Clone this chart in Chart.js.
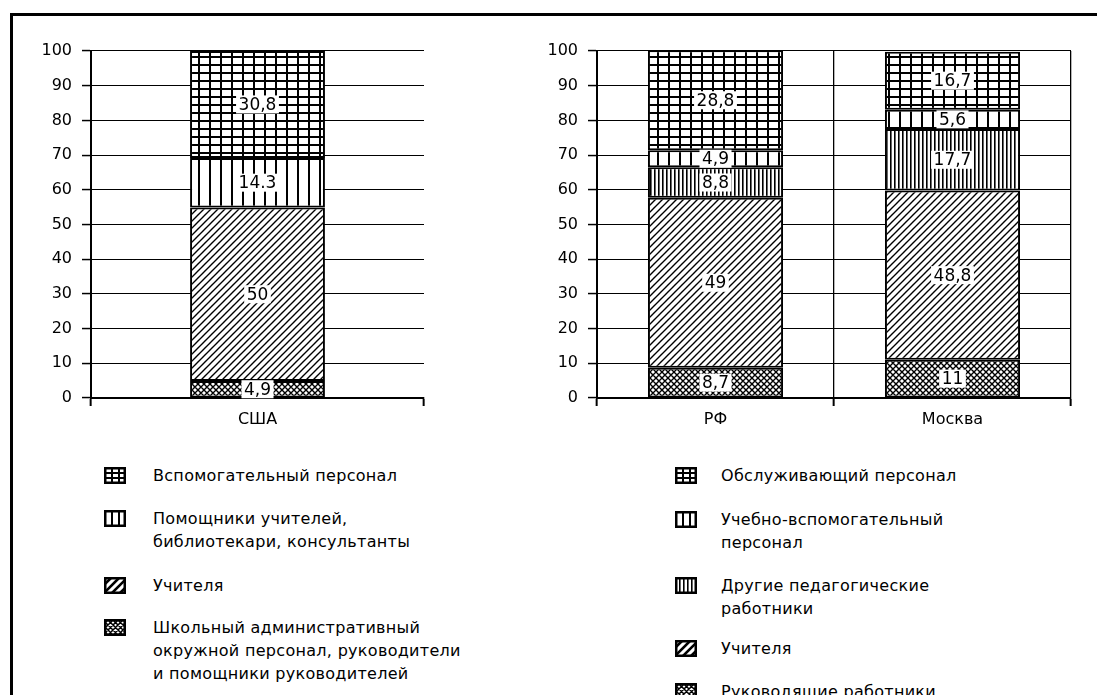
<!DOCTYPE html>
<html>
<head>
<meta charset="utf-8">
<script src="https://cdn.jsdelivr.net/npm/chart.js@4.4.0/dist/chart.umd.min.js"></script>
<style>
html,body{margin:0;padding:0;background:#fff;width:1097px;height:695px;overflow:hidden;font-family:"DejaVu Sans",sans-serif;}
#frame{position:absolute;left:10px;top:13px;width:1200px;height:800px;border-left:3px solid #000;border-top:3px solid #000;box-sizing:border-box;}
#w1{position:absolute;left:0;top:0;width:440px;height:440px;}
#w2{position:absolute;left:470px;top:0;width:627px;height:440px;}
.lg-txt{position:absolute;font-size:16px;letter-spacing:0.3px;line-height:23px;color:#000;white-space:pre;}
.lg-sw{position:absolute;}
</style>
</head>
<body>
<div id="frame"></div>
<div id="w1"><canvas id="c1"></canvas></div>
<div id="w2"><canvas id="c2"></canvas></div>
<div id="legends"></div>
<script>
// ---------- DATA ----------
const usaCategories = ['США'];
const usaSeriesNames = [
  'Школьный административный\nокружной персонал, руководители\nи помощники руководителей',
  'Учителя',
  'Помощники учителей,\nбиблиотекари, консультанты',
  'Вспомогательный персонал'
];
const usaAdmin = [4.9];
const usaTeachers = [50];
const usaAssistants = [14.3];
const usaSupport = [30.8];
const usaValueText = [['4,9'], ['50'], ['14.3'], ['30,8']];

const ruCategories = ['РФ', 'Москва'];
const ruSeriesNames = [
  'Руководящие работники',
  'Учителя',
  'Другие педагогические\nработники',
  'Учебно-вспомогательный\nперсонал',
  'Обслуживающий персонал'
];
const ruManagers = [8.7, 11];
const ruTeachers = [49, 48.8];
const ruOtherPed = [8.8, 17.7];
const ruEduSupport = [4.9, 5.6];
const ruService = [28.8, 16.7];
const ruValueText = [['8,7', '11'], ['49', '48,8'], ['8,8', '17,7'], ['4,9', '5,6'], ['28,8', '16,7']];

const yMin = 0, yMax = 100, yStep = 10;

// ---------- STYLE ----------
const FONT = '"DejaVu Sans", sans-serif';
Chart.defaults.font.family = FONT;
Chart.defaults.color = '#000';

function makePattern(kind) {
  const c = document.createElement('canvas');
  const g = c.getContext('2d');
  let w, h;
  if (kind === 'grid') { w = 11; h = 8; }
  else if (kind === 'vert') { w = 11; h = 4; }
  else if (kind === 'dense') { w = 4; h = 4; }
  else if (kind === 'diag') { w = 7; h = 7; }
  else { w = 6; h = 6; }
  c.width = w; c.height = h;
  g.fillStyle = '#fff'; g.fillRect(0, 0, w, h);
  g.fillStyle = '#000'; g.strokeStyle = '#000';
  if (kind === 'grid') {
    g.fillRect(0, 0, 2, h);
    g.fillRect(0, 0, w, 2);
  } else if (kind === 'vert') {
    g.fillRect(0, 0, 2, h);
  } else if (kind === 'dense') {
    g.fillRect(0, 0, 1, h);
    g.fillStyle = '#666'; g.fillRect(1, 0, 1, h);
  } else if (kind === 'diag') {
    g.lineWidth = 1.4;
    g.beginPath();
    g.moveTo(-1, h + 1); g.lineTo(w + 1, -1);
    g.moveTo(-w / 2 - 1, h / 2 + 1); g.lineTo(w / 2 + 1, -h / 2 - 1);
    g.moveTo(w / 2 - 1, 1.5 * h + 1); g.lineTo(1.5 * w + 1, h / 2 - 1);
    g.stroke();
  } else {
    g.lineWidth = 1.4;
    g.beginPath();
    g.moveTo(-1, h + 1); g.lineTo(w + 1, -1);
    g.moveTo(-w / 2 - 1, h / 2 + 1); g.lineTo(w / 2 + 1, -h / 2 - 1);
    g.moveTo(w / 2 - 1, 1.5 * h + 1); g.lineTo(1.5 * w + 1, h / 2 - 1);
    g.moveTo(-1, -1); g.lineTo(w + 1, h + 1);
    g.moveTo(w / 2 - 1, -h / 2 - 1); g.lineTo(1.5 * w + 1, h / 2 + 1);
    g.moveTo(-w / 2 - 1, h / 2 - 1); g.lineTo(w / 2 + 1, 1.5 * h + 1);
    g.stroke();
  }
  return g.createPattern(c, 'repeat');
}

function drawSwatch(kind) {
  const c = document.createElement('canvas');
  const W = 22, H = 17;
  c.width = W; c.height = H;
  const g = c.getContext('2d');
  g.fillStyle = '#fff'; g.fillRect(0, 0, W, H);
  g.fillStyle = '#000'; g.strokeStyle = '#000';
  g.save();
  g.beginPath(); g.rect(0, 0, W, H); g.clip();
  if (kind === 'grid') {
    g.fillRect(7, 0, 2, H); g.fillRect(14, 0, 2, H);
    g.fillRect(0, 5, W, 2); g.fillRect(0, 10, W, 2);
  } else if (kind === 'vert') {
    g.fillRect(7, 0, 2, H); g.fillRect(14, 0, 2, H);
  } else if (kind === 'dense') {
    for (let x = 4; x < W - 2; x += 4) g.fillRect(x, 0, 1.6, H);
  } else if (kind === 'diag') {
    g.lineWidth = 2.6; g.beginPath();
    for (let k = -H; k < W + H; k += 8) { g.moveTo(k, H); g.lineTo(k + H, 0); }
    g.stroke();
  } else {
    g.lineWidth = 1.5; g.beginPath();
    for (let k = -H; k < W + H; k += 5) {
      g.moveTo(k, H); g.lineTo(k + H, 0);
      g.moveTo(k, 0); g.lineTo(k + H, H);
    }
    g.stroke();
  }
  g.restore();
  g.lineWidth = 2.5; g.strokeRect(1.25, 1.25, W - 2.5, H - 2.5);
  c.className = 'lg-sw';
  return c;
}

const labelPlugin = {
  id: 'segLabels',
  afterDatasetsDraw(chart) {
    const ctx = chart.ctx;
    ctx.save();
    ctx.font = '17px ' + FONT;
    ctx.textAlign = 'center';
    ctx.textBaseline = 'middle';
    chart.data.datasets.forEach((ds, i) => {
      const meta = chart.getDatasetMeta(i);
      meta.data.forEach((bar, j) => {
        const txt = ds.valueText[j];
        const p = bar.getProps(['x', 'y', 'base'], true);
        const cy = (p.y + p.base) / 2;
        const w = ctx.measureText(txt).width + 5;
        ctx.fillStyle = '#fff';
        ctx.fillRect(p.x - w / 2, cy - 9, w, 18);
        ctx.fillStyle = '#000';
        ctx.fillText(txt, p.x, cy + 1);
      });
    });
    ctx.restore();
  }
};

function buildChart(canvasId, categories, seriesNames, seriesValues, valueText, kinds, barPct, drawVertGrid, padRight, yWidth) {
  const ctx = document.getElementById(canvasId).getContext('2d');
  const datasets = seriesValues.map((vals, i) => ({
    label: seriesNames[i],
    data: vals,
    valueText: valueText[i],
    backgroundColor: makePattern(kinds[i]),
    borderColor: '#000',
    borderWidth: 2,
    borderSkipped: false,
    barPercentage: barPct,
    categoryPercentage: 1
  }));
  return new Chart(ctx, {
    type: 'bar',
    data: { labels: categories, datasets },
    options: {
      responsive: true,
      maintainAspectRatio: false,
      animation: false,
      devicePixelRatio: 1,
      layout: { padding: { top: 51, right: padRight, bottom: 0, left: 0 } },
      plugins: { legend: { display: false }, tooltip: { enabled: false } },
      scales: {
        x: {
          stacked: true,
          grid: { offset: true, drawOnChartArea: drawVertGrid, color: '#000', lineWidth: 1.3, tickLength: 8, tickWidth: 2 },
          border: { display: true, color: '#000', width: 2 },
          ticks: { color: '#000', font: { size: 16, family: FONT }, padding: 4 },
          afterFit: s => { s.height = 42; }
        },
        y: {
          stacked: true,
          min: yMin, max: yMax,
          grid: { color: '#000', lineWidth: 1.1, tickLength: 9, tickWidth: 1.5 },
          border: { display: true, color: '#000', width: 2 },
          ticks: { stepSize: yStep, color: '#000', font: { size: 16, family: FONT }, padding: 10 },
          afterFit: s => { s.width = yWidth; }
        }
      }
    },
    plugins: [labelPlugin]
  });
}

const usaKinds = ['cross', 'diag', 'vert', 'grid'];
const ruKinds = ['cross', 'diag', 'dense', 'vert', 'grid'];

buildChart('c1', usaCategories, usaSeriesNames,
  [usaAdmin, usaTeachers, usaAssistants, usaSupport], usaValueText,
  usaKinds, 0.405, false, 16, 91);
buildChart('c2', ruCategories, ruSeriesNames,
  [ruManagers, ruTeachers, ruOtherPed, ruEduSupport, ruService], ruValueText,
  ruKinds, 0.57, true, 26, 127);

// ---------- LEGENDS ----------
function buildLegend(names, kinds, swX, txtX, centers) {
  const host = document.getElementById('legends');
  const order = names.map((n, i) => i).reverse();
  order.forEach((idx, k) => {
    const cy = centers[k];
    const sw = drawSwatch(kinds[idx]);
    sw.style.left = swX + 'px';
    sw.style.top = (cy - 8.5) + 'px';
    host.appendChild(sw);
    const t = document.createElement('div');
    t.className = 'lg-txt';
    t.textContent = names[idx];
    t.style.left = txtX + 'px';
    t.style.top = (cy - 11.5) + 'px';
    host.appendChild(t);
  });
}
buildLegend(usaSeriesNames, usaKinds, 104, 153, [475, 518, 585, 627]);
buildLegend(ruSeriesNames, ruKinds, 675, 721, [475, 519, 585, 648, 691]);
</script>
</body>
</html>
